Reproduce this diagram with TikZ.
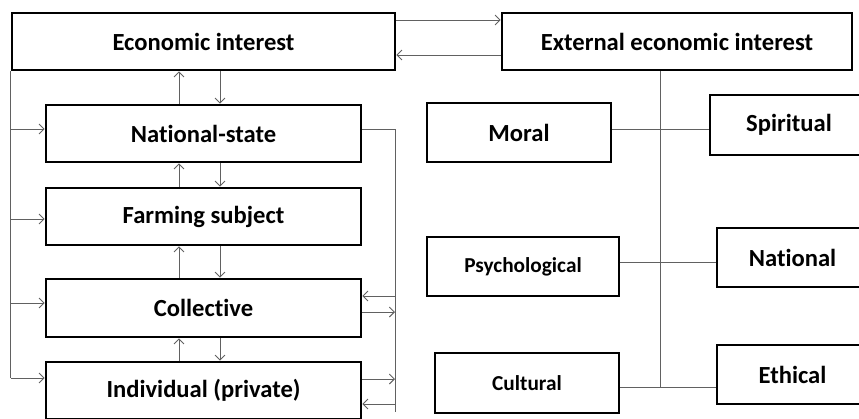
\documentclass[tikz,border=0pt]{standalone}
\usepackage{fontspec}
\setmainfont{Carlito}[Ligatures=NoCommon]
\usetikzlibrary{arrows.meta}
\begin{document}
\begin{tikzpicture}[x=1pt,y=1pt,
  bx/.style={draw=black,line width=2.6pt,inner sep=0pt,fill=white,font=\bfseries\fontsize{24.6}{28}\selectfont},
  bxs/.style={bx,font=\bfseries\fontsize{21.3}{25}\selectfont},
  conn/.style={draw=black!62,line width=0.9pt},
  arr/.style={conn,-{Straight Barb[length=5pt,width=10pt,line width=0.9pt]}}]
\useasboundingbox (0,0) rectangle (859,-418);
\clip (0,0) rectangle (859,-418);
% left column
\node[bx,minimum width=383pt,minimum height=57pt] (econ) at (203.5,-41.5) {Economic interest};
\node[bx,minimum width=315pt,minimum height=57pt] (natl) at (203.5,-133.5) {National-state};
\node[bx,minimum width=315pt,minimum height=57pt] (farm) at (203.5,-216.5) {Farming subject};
\node[bx,minimum width=315pt,minimum height=58pt] (coll) at (203.5,-308) {Collective};
\node[bx,minimum width=315pt,minimum height=57pt] (indi) at (203.5,-390.5) {Individual (private)};
% right part
\node[bx,minimum width=350pt,minimum height=57pt] (ext) at (677,-41.5) {External economic interest};
\node[bx,minimum width=184pt,minimum height=59pt] (moral) at (519,-132.5) {Moral};
\node[bxs,minimum width=192pt,minimum height=59pt] (psych) at (523,-266.5) {Psychological};
\node[bxs,minimum width=184pt,minimum height=60pt] (cult) at (527,-383) {Cultural};
\node[bx,minimum width=158pt,minimum height=60pt] (spir) at (789,-125) {Spiritual};
\node[bx,minimum width=151pt,minimum height=59pt] (natn) at (792.5,-257.5) {National};
\node[bx,minimum width=151pt,minimum height=59pt] (eth) at (792.5,-374.5) {Ethical};
% top links
\draw[arr] (econ.east |- 0,-20) -- (ext.west |- 0,-20);
\draw[arr] (ext.west |- 0,-55) -- (econ.east |- 0,-55);
% left bus
\coordinate (lbend) at (econ.south west |- 0,-378);
\draw[conn] (econ.south west) -- (lbend);
\draw[arr] (econ.south west |- 0,-129) -- (natl.west |- 0,-129);
\draw[arr] (econ.south west |- 0,-219) -- (farm.west |- 0,-219);
\draw[arr] (econ.south west |- 0,-303) -- (coll.west |- 0,-303);
\draw[arr] (lbend) -- (indi.west |- 0,-378);
% vertical arrows
\draw[arr] (natl.north -| 179,0) -- (econ.south -| 179,0);
\draw[arr] (econ.south -| 220,0) -- (natl.north -| 220,0);
\draw[arr] (farm.north -| 179,0) -- (natl.south -| 179,0);
\draw[arr] (natl.south -| 220,0) -- (farm.north -| 220,0);
\draw[arr] (coll.north -| 179,0) -- (farm.south -| 179,0);
\draw[arr] (farm.south -| 220,0) -- (coll.north -| 220,0);
\draw[arr] (indi.north -| 179,0) -- (coll.south -| 179,0);
\draw[arr] (coll.south -| 220,0) -- (indi.north -| 220,0);
% right bus
\coordinate (rtop) at (395,-129);
\coordinate (rbot) at (395,-412);
\draw[conn] (natl.east |- rtop) -- (rtop) -- (rbot);
\draw[arr] (rtop |- 0,-296) -- (coll.east |- 0,-296);
\draw[arr] (coll.east |- 0,-312) -- (rtop |- 0,-312);
\draw[arr] (indi.east |- 0,-379) -- (rtop |- 0,-379);
\draw[arr] (rtop |- 0,-404) -- (indi.east |- 0,-404);
% external tree
\coordinate (tbot) at (660,-387);
\draw[conn] (ext.south -| tbot) -- (tbot);
\draw[conn] (moral.east |- 0,-129) -- (spir.west |- 0,-129);
\draw[conn] (psych.east |- 0,-262) -- (natn.west |- 0,-262);
\draw[conn] (cult.east |- tbot) -- (eth.west |- tbot);
\end{tikzpicture}
\end{document}
